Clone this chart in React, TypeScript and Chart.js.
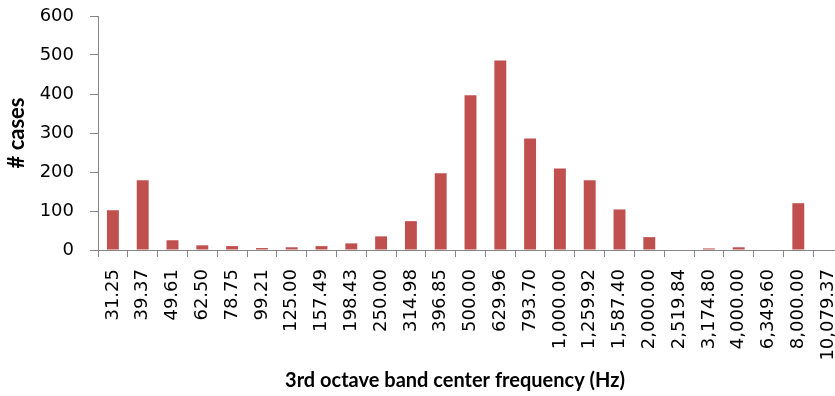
import React, { useEffect, useRef } from "react";
import { Chart, registerables } from "chart.js";

Chart.register(...registerables);

const categories: string[] = [
  "31.25", "39.37", "49.61", "62.50", "78.75", "99.21", "125.00", "157.49",
  "198.43", "250.00", "314.98", "396.85", "500.00", "629.96", "793.70",
  "1,000.00", "1,259.92", "1,587.40", "2,000.00", "2,519.84", "3,174.80",
  "4,000.00", "6,349.60", "8,000.00", "10,079.37",
];

const cases: number[] = [
  102, 179, 25, 12, 10, 5, 7, 10, 17, 35, 74, 197, 397, 486, 286,
  209, 179, 104, 33, 0, 4, 7, 0, 120, 0,
];

const yTicks: number[] = [0, 100, 200, 300, 400, 500, 600];

const xTitle = "3rd octave band center frequency (Hz)";
const yTitle = "# cases";

const AXIS_GREY = "#868686";
const BAR_RED = "#C0504D";
const TICK_FONT = "'DejaVu Sans', Verdana, sans-serif";
const TITLE_FONT = "Lato, 'Open Sans', sans-serif";

export default function App() {
  const ref = useRef<HTMLCanvasElement | null>(null);

  useEffect(() => {
    if (!ref.current) return;
    const chart = new Chart(ref.current, {
      type: "bar",
      data: {
        labels: categories,
        datasets: [
          {
            data: cases,
            backgroundColor: BAR_RED,
            borderWidth: 0,
            barPercentage: 0.4,
            categoryPercentage: 1,
          },
        ],
      },
      options: {
        responsive: false,
        animation: false,
        devicePixelRatio: 1,
        layout: { padding: { top: 16, left: 0, right: 0, bottom: 0 } },
        plugins: {
          legend: { display: false },
          tooltip: { enabled: false },
          title: {
            display: true,
            text: xTitle,
            position: "bottom",
            color: "#000",
            font: { family: TITLE_FONT, size: 20, weight: "bold" },
            padding: { top: 4, bottom: 3 },
          },
        },
        scales: {
          x: {
            afterFit: (s: any) => {
              s.height = 115;
            },
            grid: {
              display: true,
              drawOnChartArea: false,
              drawTicks: true,
              tickLength: 7,
              color: AXIS_GREY,
              offset: true,
            },
            border: { display: true, color: AXIS_GREY, width: 1 },
            ticks: {
              autoSkip: false,
              minRotation: 90,
              maxRotation: 90,
              padding: 12,
              color: "#000",
              font: { family: TICK_FONT, size: 18 },
            },
          },
          y: {
            min: 0,
            max: 600,
            afterBuildTicks: (s: any) => {
              s.ticks = yTicks.map((v) => ({ value: v }));
            },
            afterFit: (s: any) => {
              s.width = 98;
              s.paddingTop = 11;
              s.paddingBottom = 11;
            },
            grid: {
              display: true,
              drawOnChartArea: false,
              drawTicks: true,
              tickLength: 8,
              color: AXIS_GREY,
            },
            border: { display: true, color: AXIS_GREY, width: 1 },
            ticks: {
              padding: 16,
              color: "#000",
              font: { family: TICK_FONT, size: 18 },
            },
            title: {
              display: true,
              text: yTitle,
              color: "#000",
              font: { family: TITLE_FONT, size: 22, weight: "bold" },
              padding: { top: 4, bottom: 4 },
            },
          },
          y2: {
            position: "right",
            display: true,
            grid: { display: false },
            border: { display: false },
            ticks: { display: false },
            afterFit: (s: any) => {
              s.width = 67;
            },
          },
        },
      },
    });
    return () => chart.destroy();
  }, []);

  return (
    <div
      style={{
        position: "fixed",
        left: 0,
        top: 0,
        width: 835,
        height: 396,
        overflow: "hidden",
        background: "#fff",
      }}
    >
      <canvas ref={ref} width={910} height={396} style={{ width: 910, height: 396, display: "block" }} />
    </div>
  );
}
